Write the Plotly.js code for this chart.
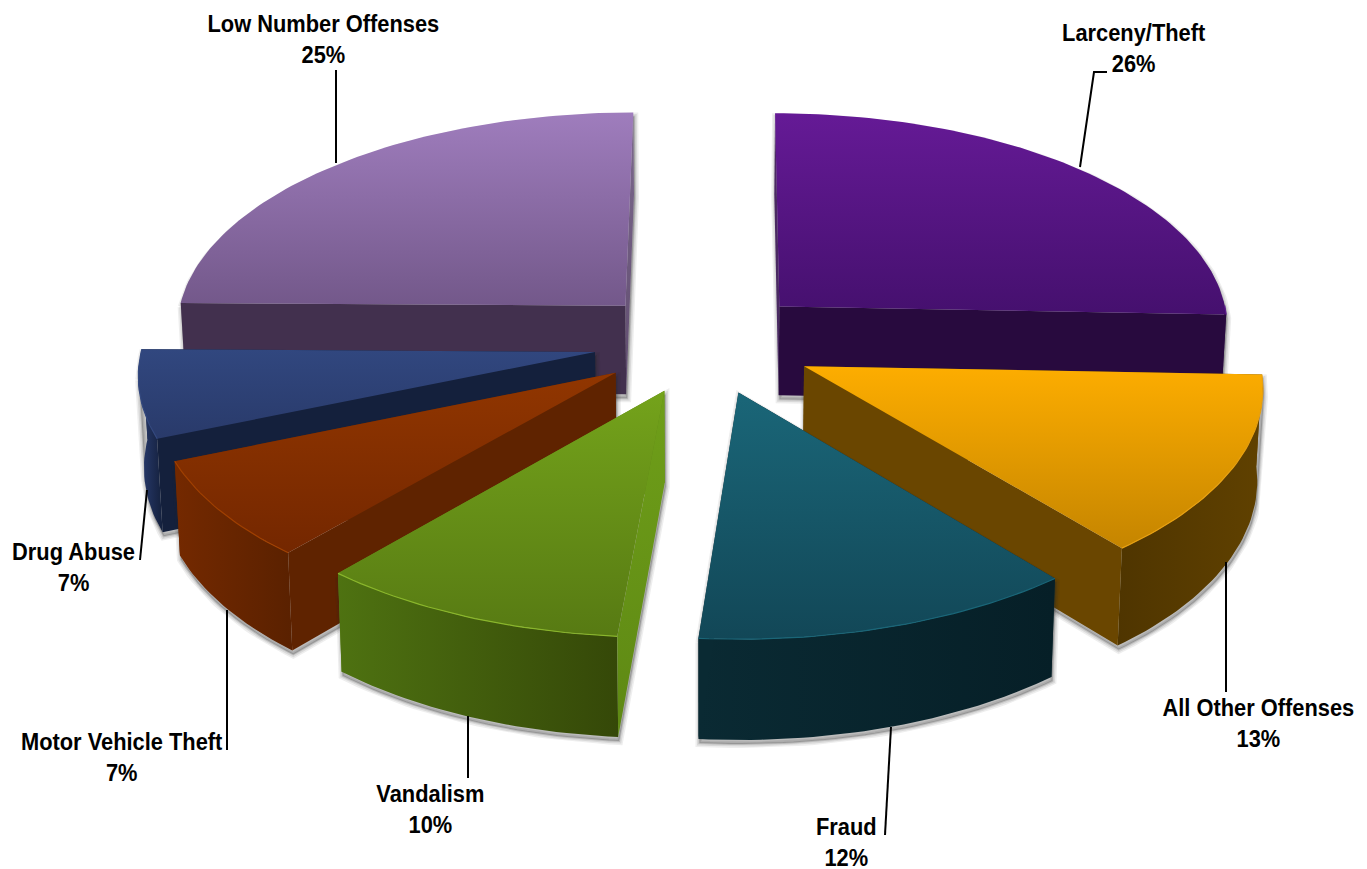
<!DOCTYPE html>
<html><head><meta charset="utf-8">
<script src="https://cdn.plot.ly/plotly-3.0.1.min.js"></script>
<style>html,body{margin:0;padding:0;background:#fff}#c{width:1367px;height:869px}</style>
</head><body><div id="c"></div>
<script>
// DATA
const categories = ["Larceny/Theft","All Other Offenses","Fraud","Vandalism","Motor Vehicle Theft","Drug Abuse","Low Number Offenses"];
const shares = [25.6,13.4,12.3,10.0,7.4,6.5,24.8];

// STYLE
const topColors = [["#651a96","#45106e"],["#fdad00","#c58500"],["#1a6678","#124757"],["#74a31b","#577a13"],["#913600","#742700"],["#31477f","#293a6a"],["#9f7dbd","#73588a"]];
const rimColors = [["#280a3e","#280a3e"],["#4f3500","#604100"],["#0a2a33","#061f27"],["#4e7211","#354808"],["#742900","#5a2100"],["#2a3d72","#14203c"],["#42304e","#42304e"]];
const firstWall = [["#4a2a62","#4a2a62"],["#6a4600","#6a4600"],["#0a2a33","#0a2a33"],["#6f9f19","#5e8814"],["#5f2300","#5f2300"],["#14203c","#14203c"],["#42304e","#42304e"]];
const lastWall = [["#280a3e","#280a3e"],["#6a4600","#6a4600"],["#0a2a33","#0a2a33"],["#5e8814","#5e8814"],["#5f2300","#5f2300"],["#14203c","#14203c"],["#7d6a8e","#5f4b6e"]];
const rimLight = ["#5c1a8c","#e8a010","#1a6678","#8ab62c","#a04000","#34497f","#9f7dbd"];
const pulls = [.24,.25,.24,.24,.24,.24,.24];
const nudgeX = [0,0,.008,.012,.006,0,-.004];
const drawOrder = [6,0,5,4,3,1,2];
const labelX = [1133,1258,846,430,121,73,323];
const labelY = [48,723,842,809,757,567,39];
const leaders = [
 [[1080,167],[1094,72],[1107,72]],
 [[1226,562],[1226,692]],
 [[891,727],[885,835]],
 [[468,716],[468,778]],
 [[227,610],[227,750]],
 [[147,490],[140,560]],
 [[336,163],[336,70]]
];

// PROJECTION
const cx=702, vx=725, cy=342, A=452, B=216, P=0.087, H=90;
function proj(X,Y,down){
  const w=1+P*Y;
  let x=vx+(cx+A*X-vx)/w, y=cy-B*Y/w;
  if(down){ x=cx+(x-cx)*0.99; y+=H/w; }
  return [x,y];
}
function poly(pts,c,type){
  const xs=pts.map(p=>p[0]), ys=pts.map(p=>p[1]);
  xs.push(xs[0]); ys.push(ys[0]);
  const scale = type==='vertical' ? [[0,c[1]],[1,c[0]]] : [[0,c[0]],[1,c[1]]];
  return {type:'scatter',mode:'lines',x:xs,y:ys,fill:'toself',line:{width:0,color:'rgba(0,0,0,0)'},
    fillgradient:{type:type,colorscale:scale},hoverinfo:'skip',showlegend:false};
}
function hull(pts){
  const s=pts.slice().sort((a,b)=>a[0]-b[0]||a[1]-b[1]);
  const cr=(o,a,b)=>(a[0]-o[0])*(b[1]-o[1])-(a[1]-o[1])*(b[0]-o[0]);
  const lo=[],up=[];
  for(const p of s){while(lo.length>1&&cr(lo[lo.length-2],lo[lo.length-1],p)<=0)lo.pop();lo.push(p);}
  for(const p of s.slice().reverse()){while(up.length>1&&cr(up[up.length-2],up[up.length-1],p)<=0)up.pop();up.push(p);}
  return lo.slice(0,-1).concat(up.slice(0,-1));
}
const total=shares.reduce((a,b)=>a+b,0);
let acc=0; const slices=shares.map((v,i)=>{
  const a0=90-acc/total*360; acc+=v; const a1=90-acc/total*360;
  return {i,a0,a1};
});
const traces=[];
drawOrder.forEach(i=>{
  const s=slices[i], mid=(s.a0+s.a1)/2*Math.PI/180;
  const ox=pulls[i]*Math.cos(mid)+nudgeX[i], oy=pulls[i]*Math.sin(mid);
  const n=Math.max(12,Math.round(shares[i]*3));
  const arc=[], rimArc=[];
  for(let k=0;k<=n;k++){
    const t=(s.a0+(s.a1-s.a0)*k/n)*Math.PI/180;
    const p=[ox+Math.cos(t),oy+Math.sin(t)];
    arc.push(p);
    if(Math.sin(t)<=0.02) rimArc.push(p);
  }
  const apex=[ox,oy];
  const T=p=>proj(p[0],p[1],false), D=p=>proj(p[0],p[1],true);
  const first=arc[0], last=arc[n];
  // soft shadow
  const sil=hull(arc.concat([apex]).map(T).concat(arc.concat([apex]).map(D))).map(p=>[p[0]+1,p[1]+4]);
  [[8,.08,'none'],[5,.1,'none'],[2,.16,'toself']].forEach(([w,o,f])=>{
    const xs=sil.map(p=>p[0]),ys=sil.map(p=>p[1]);xs.push(xs[0]);ys.push(ys[0]);
    traces.push({type:'scatter',mode:'lines',x:xs,y:ys,fill:f,fillcolor:'rgba(40,40,40,.25)',line:{width:w,color:`rgba(40,40,40,${o})`},hoverinfo:'skip',showlegend:false});
  });
  // the wall whose far end sits higher on the page is the one facing away: draw it first
  const wallA=poly([T(apex),T(first),D(first),D(apex)],firstWall[i],'vertical');
  const wallB=poly([T(apex),T(last),D(last),D(apex)],lastWall[i],'vertical');
  const backFirst=T(first)[1]<T(last)[1];
  traces.push(backFirst?wallA:wallB);
  // outer rim
  if(rimArc.length>1) traces.push(poly(rimArc.map(T).concat(rimArc.slice().reverse().map(D)),rimColors[i],'horizontal'));
  traces.push(backFirst?wallB:wallA);
  // top face
  traces.push(poly([apex].concat(arc).map(T),topColors[i],'vertical'));
  // rim highlight on the edge facing the viewer
  const h=rimArc.map(T);
  if(h.length>1) traces.push({type:'scatter',mode:'lines',x:h.map(p=>p[0]),y:h.map(p=>p[1]),line:{width:1.2,color:rimLight[i]},hoverinfo:'skip',showlegend:false});
});
const annotations=categories.map((c,i)=>({xref:'x',yref:'y',x:labelX[i],y:labelY[i],text:c+'<br>'+Math.round(shares[i])+'%',showarrow:false,align:'center',
  xanchor:'center',yanchor:'middle',font:{family:'"Liberation Sans",Arial,sans-serif',size:24,color:'#000',weight:700}}));
const shapes=leaders.map(L=>({type:'path',xref:'x',yref:'y',path:'M'+L.map(p=>p.join(',')).join('L'),line:{color:'#000',width:2}}));
Plotly.newPlot('c',traces,{
  width:1367,height:869,margin:{l:0,r:0,t:0,b:0},paper_bgcolor:'#fff',plot_bgcolor:'#fff',showlegend:false,
  xaxis:{range:[0,1367],visible:false,fixedrange:true},
  yaxis:{range:[869,0],visible:false,fixedrange:true},
  annotations,shapes
},{displayModeBar:false,staticPlot:true}).then(()=>{
  document.querySelectorAll('#c .annotation-text').forEach(t=>{
    const b=t.getBBox(), mx=b.x+b.width/2;
    t.setAttribute('transform',`translate(${mx},0) scale(0.91,1) translate(${-mx},0)`);
  });
});
</script></body></html>
